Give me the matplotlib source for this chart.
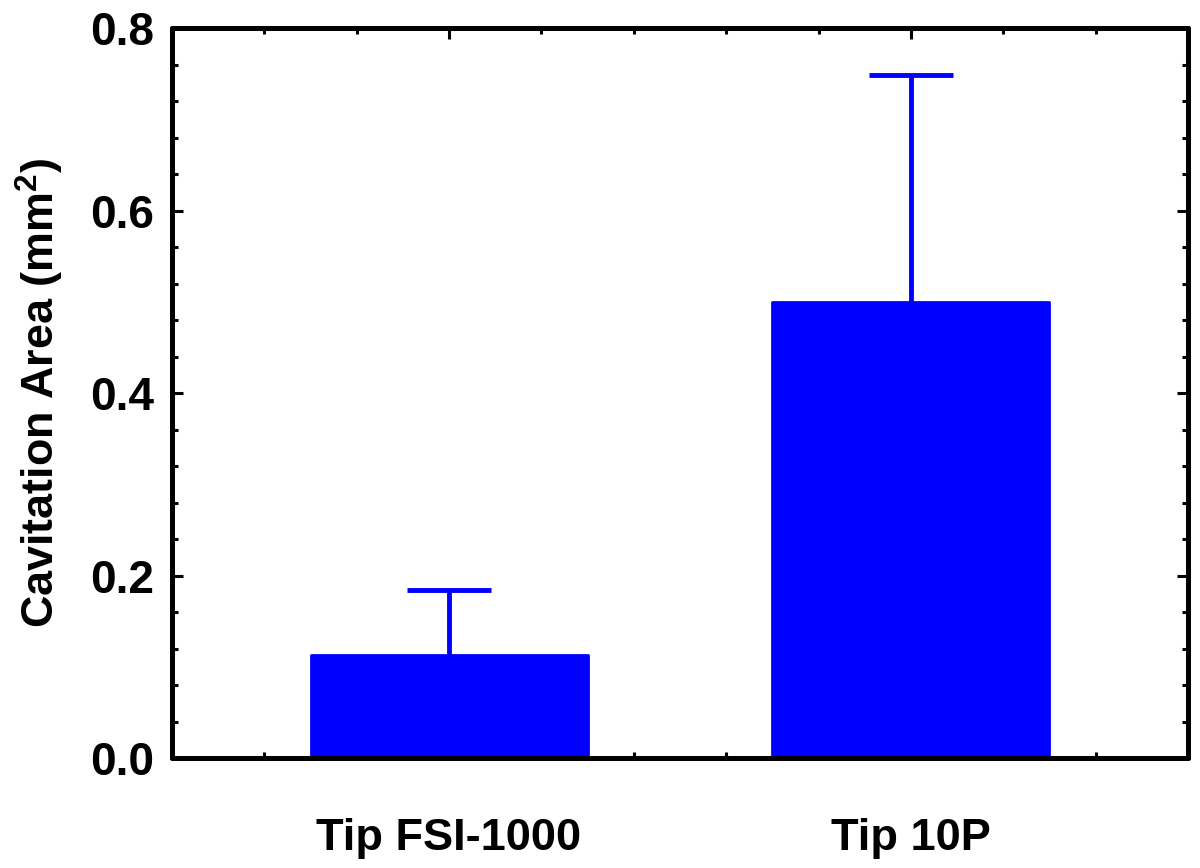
import matplotlib
matplotlib.use('Agg')
import matplotlib.pyplot as plt
from matplotlib.ticker import MultipleLocator

plt.rcParams['font.family'] = ['Liberation Sans', 'DejaVu Sans']
plt.rcParams['font.weight'] = 'bold'
plt.rcParams['mathtext.fontset'] = 'custom'
plt.rcParams['mathtext.rm'] = 'Liberation Sans'
plt.rcParams['mathtext.bf'] = 'Liberation Sans:bold'

categories = ['Tip FSI-1000', 'Tip 10P']
positions = [1, 2]
areas = [0.113, 0.500]
errors_up = [0.071, 0.248]

blue = '#0000ff'

fig = plt.figure(figsize=(12, 8.68), dpi=100)
ax = fig.add_axes([0.1433, 0.1267, 0.8467, 0.841])
ax.set_axisbelow(True)

bars = ax.bar(positions, areas, width=0.6, color=blue, edgecolor=blue,
              linewidth=2, joinstyle='round', zorder=1)
eb = ax.errorbar(positions, areas, yerr=[[0, 0], errors_up], fmt='none',
                 ecolor=blue, elinewidth=3.5, capsize=30, capthick=3.5,
                 zorder=1, solid_capstyle='round')
# only the upper caps
for cap in eb[1]:
    if list(cap.get_ydata()) == areas:
        cap.set_visible(False)

ax.set_xlim(0.4, 2.6)
ax.set_ylim(0, 0.8)
ax.set_xticks(positions)
ax.set_xticklabels(categories)
ax.xaxis.set_minor_locator(MultipleLocator(0.2))
ax.yaxis.set_major_locator(MultipleLocator(0.2))
ax.yaxis.set_minor_locator(MultipleLocator(0.04))
ax.yaxis.set_major_formatter(plt.FormatStrFormatter('%.1f'))

for s in ax.spines.values():
    s.set_linewidth(3.6)
    s.set_capstyle('round')

ax.tick_params(which='both', direction='in', top=True, right=True, width=2.2)
ax.tick_params(which='major', length=8)
ax.tick_params(axis='y', which='major', pad=13, labelsize=33)
ax.tick_params(axis='x', which='major', pad=43, labelsize=32.5)
ax.tick_params(which='minor', length=4.5)

ax.set_ylabel('Cavitation Area (mm$^{2}$)', fontsize=32.3, fontweight='bold',
              labelpad=17)

fig.savefig('out.png', dpi=100)
